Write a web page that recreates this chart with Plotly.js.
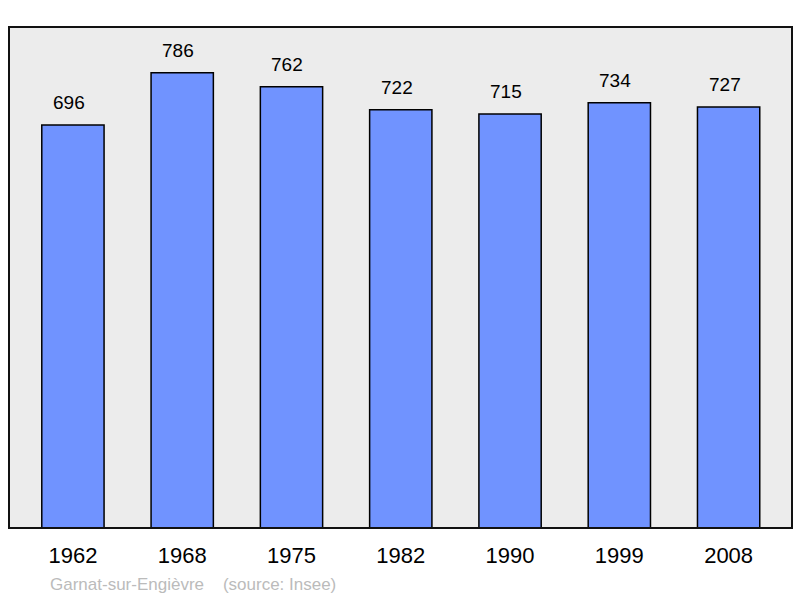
<!DOCTYPE html>
<html><head><meta charset="utf-8">
<script src="https://cdn.plot.ly/plotly-3.0.1.min.js"></script>
<style>body{margin:0;background:#fff}#c{width:800px;height:598px}</style>
</head><body><div id="c"></div>
<script>
const years = ["1962","1968","1975","1982","1990","1999","2008"];
const population = [696,786,762,722,715,734,727];
const footer = "Garnat-sur-Engièvre    (source: Insee)";

const trace = {
  type: "bar",
  x: years.map((_, i) => i),
  y: population,
  width: 0.57,
  marker: {color: "#7093ff", line: {color: "#000", width: 1.5}},
  hoverinfo: "none"
};
const annotations = population.map((v, i) => ({
  x: i, y: v, xref: "x", yref: "y", text: String(v), showarrow: false,
  yanchor: "bottom", yshift: 10, xshift: -4,
  font: {family: "Liberation Sans, Arial, sans-serif", size: 19, color: "#000"}
}));
annotations.push({
  xref: "paper", yref: "paper", x: 0.05, y: -0.089, xanchor: "left", yanchor: "top",
  text: footer.replace(/ /g, "&nbsp;"), showarrow: false,
  font: {family: "Liberation Sans, Arial, sans-serif", size: 17, color: "#bbbbbb"}
});
const layout = {
  width: 800, height: 598,
  margin: {l: 9, r: 8, t: 27, b: 70},
  paper_bgcolor: "#fff", plot_bgcolor: "#ececec",
  showlegend: false,
  xaxis: {range: [-0.585, 6.58], tickvals: years.map((_, i) => i), ticktext: years,
    showgrid: false, zeroline: false, ticks: "", showline: false, ticklabelstandoff: 12,
    tickfont: {family: "Liberation Sans, Arial, sans-serif", size: 22, color: "#000"}, fixedrange: true},
  yaxis: {range: [0, 865], showgrid: false, zeroline: false, showticklabels: false, ticks: "", fixedrange: true},
  annotations: annotations,
  shapes: [{type: "rect", xref: "paper", yref: "paper", x0: 0, x1: 1, y0: 0, y1: 1,
    line: {color: "#111", width: 2}}]
};
Plotly.newPlot("c", [trace], layout, {displayModeBar: false, staticPlot: true});
</script></body></html>
